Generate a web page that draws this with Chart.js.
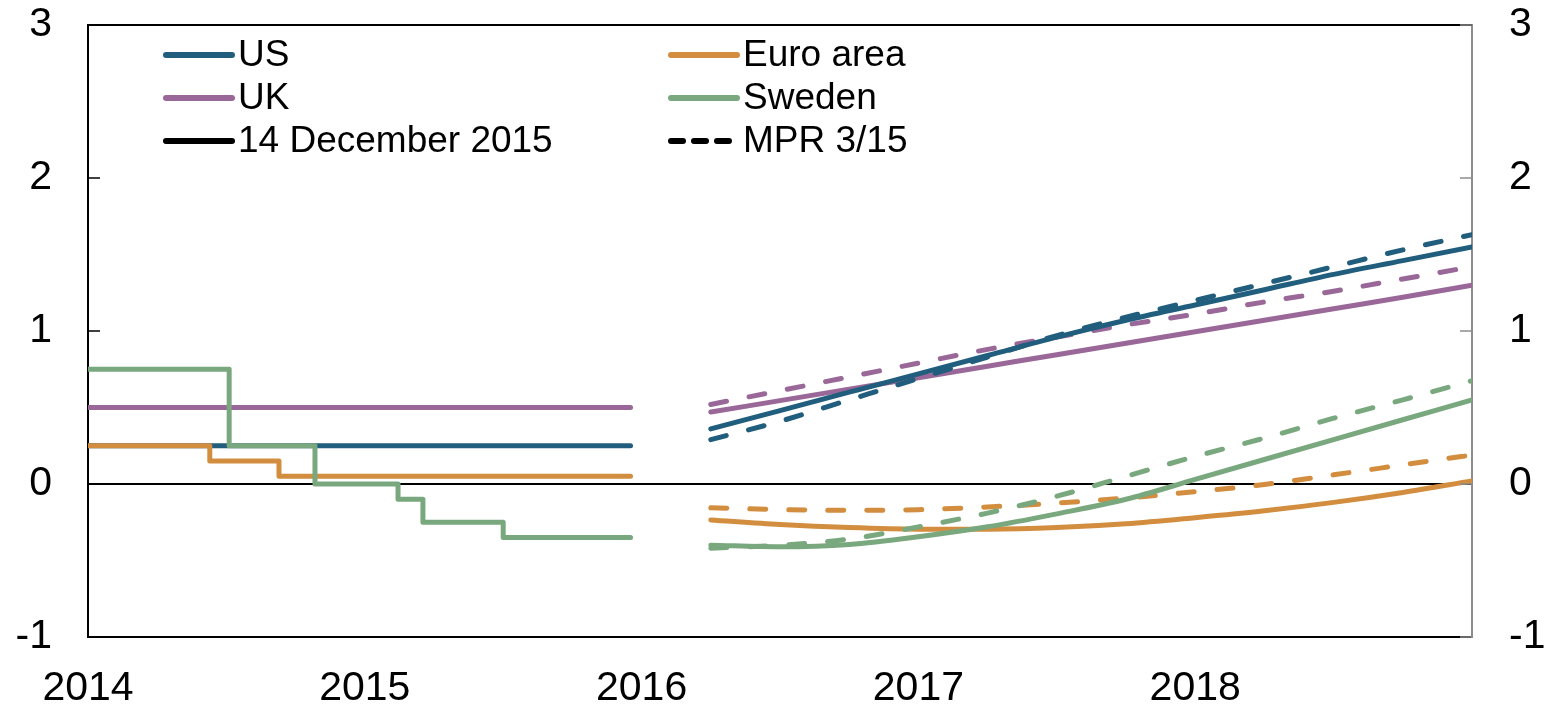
<!DOCTYPE html>
<html lang="en">
<head>
<meta charset="UTF-8">
<title>Policy rates and forward rates</title>
<script src="https://cdn.jsdelivr.net/npm/chart.js"></script>
<style>
  html, body { margin: 0; padding: 0; background: #fff; }
  #wrap { width: 1548px; height: 707px; }
</style>
</head>
<body>
<div id="wrap"><canvas id="myChart"></canvas></div>
<script>
// historical policy rates, step series (date as fractional year)
var usDates = [2014.0, 2015.96];
var usRates = [0.25, 0.25];
var ukDates = [2014.0, 2015.96];
var ukRates = [0.5, 0.5];
var euroDates = [2014.0, 2014.44, 2014.69, 2015.96];
var euroRates = [0.25, 0.15, 0.05, 0.05];
var swedenDates = [2014.0, 2014.51, 2014.82, 2015.12, 2015.21, 2015.50, 2015.96];
var swedenRates = [0.75, 0.25, 0.0, -0.10, -0.25, -0.35, -0.35];

// forward curves, quarterly
var fwdDates = [2016.25, 2016.5, 2016.75, 2017.0, 2017.25, 2017.5, 2017.75, 2018.0, 2018.25, 2018.5, 2018.75, 2019.0];
var usDec     = [0.36, 0.48, 0.60, 0.72, 0.84, 0.96, 1.07, 1.17, 1.27, 1.37, 1.46, 1.55];
var usMpr     = [0.29, 0.41, 0.55, 0.69, 0.83, 0.97, 1.09, 1.20, 1.31, 1.42, 1.53, 1.63];
var ukDec     = [0.47, 0.545, 0.62, 0.695, 0.77, 0.845, 0.92, 0.995, 1.07, 1.145, 1.22, 1.30];
var ukMpr     = [0.52, 0.61, 0.70, 0.79, 0.88, 0.96, 1.04, 1.11, 1.19, 1.26, 1.34, 1.42];
var euroDec   = [-0.235, -0.265, -0.285, -0.295, -0.295, -0.285, -0.26, -0.22, -0.175, -0.12, -0.055, 0.02];
var euroMpr   = [-0.155, -0.167, -0.172, -0.168, -0.15, -0.125, -0.092, -0.05, -0.003, 0.06, 0.125, 0.19];
var swedenDec = [-0.40, -0.41, -0.395, -0.345, -0.28, -0.195, -0.10, 0.03, 0.16, 0.29, 0.42, 0.55];
var swedenMpr = [-0.42, -0.40, -0.36, -0.28, -0.19, -0.08, 0.05, 0.18, 0.30, 0.43, 0.55, 0.675];

var yearTicks = [2014, 2015, 2016, 2017, 2018];
var rateTicks = [-1, 0, 1, 2, 3];

var US = '#215e7d', UK = '#9a6898', EURO = '#d38d3f', SWEDEN = '#7aa87e';
var DASH = [16, 23];
var FAMILY = '"Liberation Sans", Arial, sans-serif';
var TICK_FONT = { family: FAMILY, size: 41 };
var LEGEND_SIZE = 37;

function pts(xs, ys) {
  return xs.map(function (x, i) { return { x: x, y: ys[i] }; });
}

function hist(data, color) {
  return { data: data, borderColor: color, borderWidth: 5, stepped: 'before', pointRadius: 0, fill: false,
           borderCapStyle: 'round', borderJoinStyle: 'round' };
}
function fwd(data, color, dashed) {
  return { data: data, borderColor: color, borderWidth: 5, cubicInterpolationMode: 'monotone', pointRadius: 0, fill: false,
           borderCapStyle: 'round', borderDash: dashed ? DASH : [] };
}

// fixed axis sizes, no label overflow padding
function fitWidth(w) {
  return function (s) { s.width = w; s.paddingTop = 0; s.paddingBottom = 0; };
}

// legend, top frame and inward ticks
var decorPlugin = {
  id: 'decor',
  afterDraw: function (chart) {
    var ctx = chart.ctx, a = chart.chartArea;
    var yL = chart.scales.y;
    ctx.save();
    ctx.strokeStyle = '#000';
    ctx.lineWidth = 2;
    ctx.beginPath();
    ctx.moveTo(a.left, a.top);
    ctx.lineTo(a.right, a.top);
    ctx.stroke();
    rateTicks.forEach(function (v) {
      var py = yL.getPixelForValue(v);
      ctx.strokeStyle = '#000';
      ctx.lineWidth = 1.5;
      ctx.beginPath(); ctx.moveTo(a.left, py); ctx.lineTo(a.left + 12, py); ctx.stroke();
      ctx.strokeStyle = '#8c8c8c';
      ctx.beginPath(); ctx.moveTo(a.right - 12, py); ctx.lineTo(a.right, py); ctx.stroke();
    });
    var items = [
      { label: 'US', color: US, dash: [] },
      { label: 'Euro area', color: EURO, dash: [] },
      { label: 'UK', color: UK, dash: [] },
      { label: 'Sweden', color: SWEDEN, dash: [] },
      { label: '14 December 2015', color: '#000', dash: [] },
      { label: 'MPR 3/15', color: '#000', dash: [12, 11] }
    ];
    ctx.font = LEGEND_SIZE + 'px ' + FAMILY;
    ctx.textBaseline = 'middle';
    ctx.fillStyle = '#000';
    items.forEach(function (it, i) {
      var col = i % 2, row = Math.floor(i / 2);
      var x = a.left + 78 + col * 505;
      var y = a.top + 30 + row * 43;
      ctx.strokeStyle = it.color;
      ctx.lineWidth = 6;
      ctx.lineCap = 'round';
      ctx.setLineDash(it.dash);
      ctx.beginPath(); ctx.moveTo(x, y); ctx.lineTo(x + 66, y); ctx.stroke();
      ctx.setLineDash([]);
      ctx.fillText(it.label, x + 72, y + 1);
    });
    ctx.restore();
  }
};

var ctx = document.getElementById('myChart').getContext('2d');
var myChart = new Chart(ctx, {
  type: 'line',
  data: {
    datasets: [
      hist(pts(swedenDates, swedenRates), SWEDEN),
      hist(pts(euroDates, euroRates), EURO),
      hist(pts(usDates, usRates), US),
      hist(pts(ukDates, ukRates), UK),
      fwd(pts(fwdDates, swedenDec), SWEDEN, false),
      fwd(pts(fwdDates, swedenMpr), SWEDEN, true),
      fwd(pts(fwdDates, euroDec), EURO, false),
      fwd(pts(fwdDates, euroMpr), EURO, true),
      fwd(pts(fwdDates, usDec), US, false),
      fwd(pts(fwdDates, usMpr), US, true),
      fwd(pts(fwdDates, ukDec), UK, false),
      fwd(pts(fwdDates, ukMpr), UK, true)
    ]
  },
  options: {
    responsive: true,
    maintainAspectRatio: false,
    animation: false,
    layout: { padding: { top: 25, left: 0, right: 0, bottom: 0 } },
    plugins: { legend: { display: false }, tooltip: { enabled: false } },
    scales: {
      x: {
        type: 'linear', min: 2014, max: 2019,
        afterBuildTicks: function (s) { s.ticks = yearTicks.map(function (v) { return { value: v }; }); },
        afterFit: function (s) { s.height = 70; s.paddingLeft = 0; s.paddingRight = 0; },
        grid: { display: false },
        border: { display: true, color: '#000', width: 2 },
        ticks: { font: TICK_FONT, color: '#000', padding: 19, maxRotation: 0, autoSkip: false,
                  callback: function (v) { return String(v); } }
      },
      y: {
        position: 'left', min: -1, max: 3,
        afterBuildTicks: function (s) { s.ticks = rateTicks.map(function (v) { return { value: v }; }); },
        afterFit: fitWidth(88),
        grid: { drawTicks: false, lineWidth: 2,
                color: function (c) { return c.tick && c.tick.value === 0 ? '#000' : 'rgba(0,0,0,0)'; } },
        border: { display: true, color: '#000', width: 2 },
        ticks: { font: TICK_FONT, color: '#000', padding: 36 }
      },
      y2: {
        position: 'right', min: -1, max: 3,
        afterBuildTicks: function (s) { s.ticks = rateTicks.map(function (v) { return { value: v }; }); },
        afterFit: fitWidth(76),
        grid: { display: false, drawTicks: false },
        border: { display: true, color: '#8c8c8c', width: 2 },
        ticks: { font: TICK_FONT, color: '#000', padding: 37, crossAlign: 'near' }
      }
    }
  },
  plugins: [decorPlugin]
});
</script>
</body>
</html>
